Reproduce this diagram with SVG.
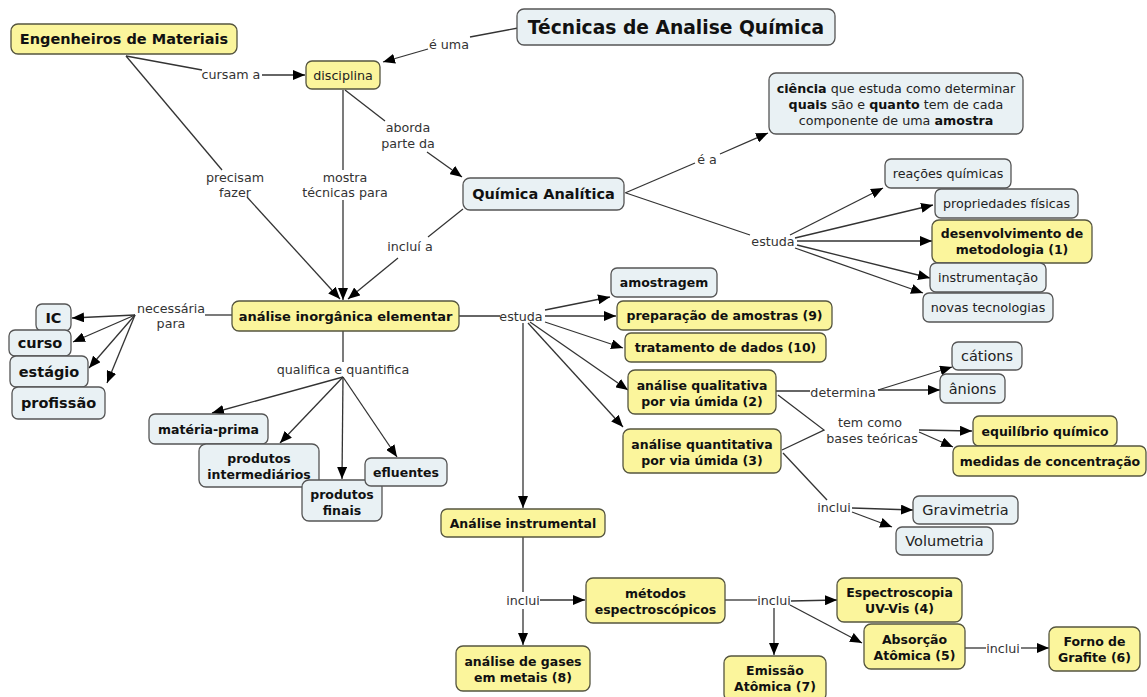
<svg xmlns="http://www.w3.org/2000/svg" width="1147" height="697" viewBox="0 0 1147 697">
<style>
.y{fill:#fbf59c;stroke:#55553f;stroke-width:1.3}
.b{fill:#e9f1f4;stroke:#555;stroke-width:1.3}
text{font-family:"DejaVu Sans",Verdana,sans-serif;text-anchor:middle}
.tb{font-weight:bold;font-size:12.5px;fill:#111}
.tn{font-size:12.7px;fill:#222}
.tl{font-size:14.5px;fill:#222}
.lab{font-size:12.7px;fill:#333}
.c{stroke:#333;stroke-width:1.3;fill:none}
.a{marker-end:url(#ah)}
</style>
<defs>
<marker id="ah" viewBox="0 0 12 10" refX="12" refY="5" markerWidth="12" markerHeight="10" orient="auto" markerUnits="userSpaceOnUse"><path d="M0,0 L12,5 L0,10 z" fill="#000"/></marker>
</defs>
<rect width="1147" height="697" fill="#fff"/>
<g id="connectors">
<path class="c" d="M126,56 L202,70"/><path class="c a" d="M262,75 L305,75"/>
<path class="c" d="M126,56 L222,170"/><path class="c a" d="M247,197 L340,299"/>
<path class="c" d="M343,90 L343,170"/><path class="c a" d="M343,200 L343,300"/>
<path class="c" d="M518,28 L470,37"/><path class="c a" d="M428,49 L383,62"/>
<path class="c" d="M345,90 L385,121"/><path class="c a" d="M427,152 L462,177"/>
<path class="c" d="M625,193 L695,163"/><path class="c a" d="M720,154 L768,133"/>
<path class="c" d="M463,209 L428,237"/><path class="c a" d="M398,258 L348,299"/>
<path class="c" d="M626,193 L750,235"/>
<path class="c a" d="M790,235 L883,188"/>
<path class="c a" d="M795,238 L933,205"/>
<path class="c a" d="M797,241 L932,241"/>
<path class="c a" d="M797,245 L930,278"/>
<path class="c a" d="M795,248 L923,293"/>
<path class="c" d="M459,316 L500,316"/>
<path class="c a" d="M545,310 L610,297"/>
<path class="c a" d="M545,316 L616,316"/>
<path class="c a" d="M545,322 L623,348"/>
<path class="c a" d="M530,322 L628,390"/>
<path class="c a" d="M528,323 L623,427"/>
<path class="c a" d="M523,323 L523,508"/>
<path class="c" d="M232,315 L205,315"/>
<path class="c a" d="M135,315 L72,318"/>
<path class="c a" d="M135,315 L73,342"/>
<path class="c a" d="M135,315 L89,368"/>
<path class="c a" d="M135,315 L107,383"/>
<path class="c" d="M343,331 L343,362"/>
<path class="c a" d="M343,377 L212,413"/>
<path class="c a" d="M343,377 L280,443"/>
<path class="c a" d="M343,377 L342,479"/>
<path class="c a" d="M343,377 L397,457"/>
<path class="c" d="M776,391 L810,391"/>
<path class="c a" d="M878,390 L952,367"/>
<path class="c a" d="M878,390 L940,390"/>
<path class="c" d="M778,395 L824,430 L782,450"/>
<path class="c a" d="M919,430 L972,431"/>
<path class="c a" d="M919,432 L953,447"/>
<path class="c" d="M783,453 L827,500"/>
<path class="c a" d="M852,508 L913,510"/>
<path class="c a" d="M852,512 L892,527"/>
<path class="c" d="M523,537 L523,592"/>
<path class="c a" d="M523,609 L523,645"/>
<path class="c a" d="M540,600 L585,600"/>
<path class="c" d="M725,600 L757,600"/>
<path class="c a" d="M791,601 L837,600"/>
<path class="c a" d="M790,605 L862,643"/>
<path class="c a" d="M774,608 L774,655"/>
<path class="c" d="M965,648 L986,648"/>
<path class="c a" d="M1021,648 L1049,648"/>
<text class="lab" x="231" y="78.5">cursam a</text>
<text class="lab" x="235" y="181.5">precisam</text><text class="lab" x="235" y="196.5">fazer</text>
<text class="lab" x="345" y="181.5">mostra</text><text class="lab" x="345" y="196.5">técnicas para</text>
<text class="lab" x="449" y="48.5">é uma</text>
<text class="lab" x="408" y="131.5">aborda</text><text class="lab" x="408" y="147.5">parte da</text>
<text class="lab" x="707" y="164">é a</text>
<text class="lab" x="410" y="250.5">incluí a</text>
<text class="lab" x="773" y="245.5">estuda</text>
<text class="lab" x="521" y="320.5">estuda</text>
<text class="lab" x="171" y="312.5">necessária</text><text class="lab" x="171" y="327.5">para</text>
<text class="lab" x="343" y="373.5">qualifica e quantifica</text>
<text class="lab" x="843" y="396.5">determina</text>
<text class="lab" x="870" y="426.5">tem como</text><text class="lab" x="872" y="442.5">bases teóricas</text>
<text class="lab" x="834" y="511.5">inclui</text>
<text class="lab" x="523" y="604.5">inclui</text>
<text class="lab" x="774" y="604.5">inclui</text>
<text class="lab" x="1003" y="652.5">inclui</text>
</g>
<g id="n-engenheiros"><rect class="y" x="11" y="24" width="226" height="30" rx="7"/><text class="tb" style="font-size:14.5px" x="124" y="44">Engenheiros de Materiais</text></g>
<g id="n-tecnicas"><rect class="b" x="517" y="9" width="318" height="36" rx="7"/><text class="tb" style="font-size:18.7px" x="676" y="34">Técnicas de Analise Química</text></g>
<g id="n-disciplina"><rect class="y" x="306" y="61" width="74" height="28" rx="6"/><text class="tn" x="343" y="79.5">disciplina</text></g>
<g id="n-quimica"><rect class="b" x="463" y="178" width="161" height="32" rx="7"/><text class="tb" style="font-size:14.5px" x="543.5" y="199">Química Analítica</text></g>
<g id="n-ciencia"><rect class="b" x="769" y="73" width="254" height="61" rx="7"/>
<text class="tn" x="896" y="92.5"><tspan font-weight="bold" fill="#111">ciência</tspan> que estuda como determinar</text>
<text class="tn" x="896" y="108.5"><tspan font-weight="bold" fill="#111">quais</tspan> são e <tspan font-weight="bold" fill="#111">quanto</tspan> tem de cada</text>
<text class="tn" x="896" y="124.5">componente de uma <tspan font-weight="bold" fill="#111">amostra</tspan></text></g>
<g id="n-reacoes"><rect class="b" x="885" y="159" width="126" height="29" rx="6"/><text class="tn" x="948" y="178">reações químicas</text></g>
<g id="n-propriedades"><rect class="b" x="935" y="189" width="143" height="29" rx="6"/><text class="tn" x="1006.5" y="208">propriedades físicas</text></g>
<g id="n-desenvolvimento"><rect class="y" x="932" y="220" width="160" height="43" rx="7"/><text class="tb" x="1012" y="237.5">desenvolvimento de</text><text class="tb" x="1012" y="253.5">metodologia (1)</text></g>
<g id="n-instrumentacao"><rect class="b" x="930" y="263" width="116" height="29" rx="6"/><text class="tn" x="988" y="282">instrumentação</text></g>
<g id="n-novas"><rect class="b" x="923" y="293" width="130" height="29" rx="6"/><text class="tn" x="988" y="312">novas tecnologias</text></g>
<g id="n-inorganica"><rect class="y" x="232" y="301" width="227" height="30" rx="7"/><text class="tb" style="font-size:13px" x="345.5" y="320.5">análise inorgânica elementar</text></g>
<g id="n-ic"><rect class="b" x="36" y="304" width="35" height="27" rx="6"/><text class="tb" style="font-size:14.5px" x="53.5" y="323">IC</text></g>
<g id="n-curso"><rect class="b" x="9" y="330" width="62" height="26" rx="6"/><text class="tb" style="font-size:14.5px" x="40" y="348">curso</text></g>
<g id="n-estagio"><rect class="b" x="10" y="356" width="78" height="31" rx="6"/><text class="tb" style="font-size:14.5px" x="49" y="377">estágio</text></g>
<g id="n-profissao"><rect class="b" x="12" y="387" width="93" height="32" rx="6"/><text class="tb" style="font-size:14.5px" x="58.5" y="408">profissão</text></g>
<g id="n-amostragem"><rect class="b" x="611" y="268" width="106" height="29" rx="6"/><text class="tb" x="664" y="287">amostragem</text></g>
<g id="n-preparacao"><rect class="y" x="617" y="301" width="215" height="29" rx="6"/><text class="tb" x="724.5" y="320">preparação de amostras (9)</text></g>
<g id="n-tratamento"><rect class="y" x="625" y="333" width="201" height="29" rx="6"/><text class="tb" x="725.5" y="352">tratamento de dados (10)</text></g>
<g id="n-qualitativa"><rect class="y" x="628" y="370" width="148" height="44" rx="7"/><text class="tb" x="702" y="389.5">análise qualitativa</text><text class="tb" x="702" y="405.5">por via úmida (2)</text></g>
<g id="n-quantitativa"><rect class="y" x="623" y="429" width="158" height="44" rx="7"/><text class="tb" x="702" y="448.5">análise quantitativa</text><text class="tb" x="702" y="464.5">por via úmida (3)</text></g>
<g id="n-cations"><rect class="b" x="952" y="342" width="70" height="28" rx="6"/><text class="tl" x="987" y="361">cátions</text></g>
<g id="n-anions"><rect class="b" x="940" y="374" width="65" height="29" rx="6"/><text class="tl" x="972.5" y="393.5">ânions</text></g>
<g id="n-equilibrio"><rect class="y" x="973" y="416" width="144" height="30" rx="6"/><text class="tb" x="1045" y="435.5">equilíbrio químico</text></g>
<g id="n-medidas"><rect class="y" x="953" y="446" width="193" height="30" rx="6"/><text class="tb" x="1050" y="465.5">medidas de concentração</text></g>
<g id="n-gravimetria"><rect class="b" x="913" y="496" width="105" height="28" rx="6"/><text class="tl" x="965.5" y="515">Gravimetria</text></g>
<g id="n-volumetria"><rect class="b" x="896" y="527" width="97" height="28" rx="6"/><text class="tl" x="944.5" y="546">Volumetria</text></g>
<g id="n-materia"><rect class="b" x="149" y="414" width="119" height="30" rx="6"/><text class="tb" x="208.5" y="433.5">matéria-prima</text></g>
<g id="n-intermediarios"><rect class="b" x="199" y="444" width="120" height="43" rx="7"/><text class="tb" x="259" y="462.5">produtos</text><text class="tb" x="259" y="478.5">intermediários</text></g>
<g id="n-finais"><rect class="b" x="302" y="480" width="80" height="41" rx="7"/><text class="tb" x="342" y="498.5">produtos</text><text class="tb" x="342" y="514.5">finais</text></g>
<g id="n-efluentes"><rect class="b" x="365" y="458" width="82" height="28" rx="6"/><text class="tb" x="406" y="476.5">efluentes</text></g>
<g id="n-instrumental"><rect class="y" x="441" y="509" width="164" height="28" rx="6"/><text class="tb" x="523" y="527.5">Análise instrumental</text></g>
<g id="n-metodos"><rect class="y" x="586" y="578" width="139" height="45" rx="7"/><text class="tb" x="655.5" y="597.5">métodos</text><text class="tb" x="655.5" y="613.5">espectroscópicos</text></g>
<g id="n-gases"><rect class="y" x="456" y="646" width="134" height="45" rx="7"/><text class="tb" x="523" y="665.5">análise de gases</text><text class="tb" x="523" y="681.5">em metais (8)</text></g>
<g id="n-uvvis"><rect class="y" x="837" y="578" width="125" height="44" rx="7"/><text class="tb" x="899.5" y="596.5">Espectroscopia</text><text class="tb" x="899.5" y="612.5">UV-Vis (4)</text></g>
<g id="n-absorcao"><rect class="y" x="864" y="624" width="101" height="45" rx="7"/><text class="tb" x="914.5" y="643.5">Absorção</text><text class="tb" x="914.5" y="659.5">Atômica (5)</text></g>
<g id="n-forno"><rect class="y" x="1049" y="627" width="91" height="44" rx="7"/><text class="tb" x="1094.5" y="645.5">Forno de</text><text class="tb" x="1094.5" y="661.5">Grafite (6)</text></g>
<g id="n-emissao"><rect class="y" x="724" y="656" width="102" height="45" rx="7"/><text class="tb" x="775" y="674.5">Emissão</text><text class="tb" x="775" y="690.5">Atômica (7)</text></g>
</svg>
